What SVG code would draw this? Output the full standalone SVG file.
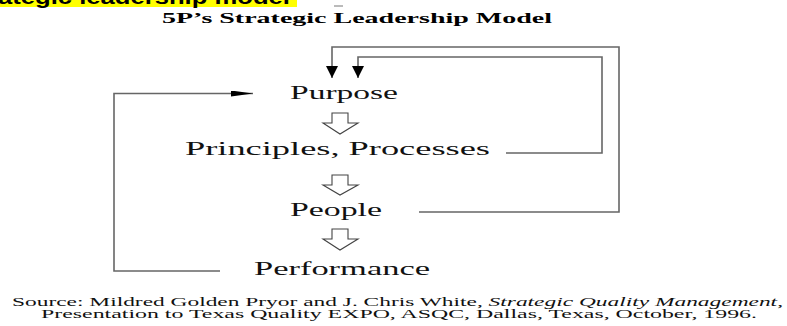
<svg xmlns="http://www.w3.org/2000/svg" width="787" height="326" viewBox="0 0 787 326">
<style>
.node{font-size:19px;fill:#111}
.conn{fill:none;stroke:#666;stroke-width:1.6}
.hollow{fill:#fff;stroke:#444;stroke-width:1.1}
.src{font-size:11.5px;fill:#111}
</style>
<defs>
<marker id="ah" viewBox="0 0 12 12" refX="12" refY="6" markerWidth="12" markerHeight="12" markerUnits="userSpaceOnUse" orient="auto">
<path d="M0,0 L12,6 L0,12 Z" fill="#000"/>
</marker>
<marker id="ahl" viewBox="0 0 22 6" refX="22" refY="3" markerWidth="22" markerHeight="6" markerUnits="userSpaceOnUse" orient="auto">
<path d="M0,0 L22,3 L0,6 Z" fill="#000"/>
</marker>
</defs>
<rect x="0" y="0" width="297" height="7" fill="#ffff00"/>
<text x="-2" y="4" font-family="Liberation Sans, Arial, sans-serif" font-weight="bold" font-size="20" textLength="292" lengthAdjust="spacingAndGlyphs">ategic leadership model</text>
<line x1="334" y1="6" x2="343" y2="6" stroke="#777" stroke-width="1"/>
<text x="162" y="22.5" font-family="Liberation Serif, Times New Roman, serif" font-weight="bold" font-size="15" textLength="390" lengthAdjust="spacingAndGlyphs">5P’s Strategic Leadership Model</text>
<g id="connectors">
<path class="conn" d="M419,212 H619 V47 H332 V78" marker-end="url(#ah)"/>
<path class="conn" d="M506,153 H602 V57 H358 V78" marker-end="url(#ah)"/>
<path class="conn" d="M220,271 H114 V93.5 H253" marker-end="url(#ahl)"/>
<path class="hollow" d="M332,113 H348 V123 H358 L340,134 L323,123 H332 Z"/>
<path class="hollow" d="M332,175 H348 V185 H358 L340,195 L323,185 H332 Z"/>
<path class="hollow" d="M332,229 H348 V239 H358 L340,250 L323,239 H332 Z"/>
</g>
<g id="purpose"><text class="node" font-family="Liberation Serif, Times New Roman, serif" x="290" y="98.5" textLength="108" lengthAdjust="spacingAndGlyphs">Purpose</text></g>
<g id="principles"><text class="node" font-family="Liberation Serif, Times New Roman, serif" x="185" y="155" textLength="305" lengthAdjust="spacingAndGlyphs">Principles, Processes</text></g>
<g id="people"><text class="node" font-family="Liberation Serif, Times New Roman, serif" x="290" y="216" textLength="92" lengthAdjust="spacingAndGlyphs">People</text></g>
<g id="performance"><text class="node" font-family="Liberation Serif, Times New Roman, serif" x="254" y="275" textLength="176" lengthAdjust="spacingAndGlyphs">Performance</text></g>
<g id="source">
<text class="src" font-family="Liberation Serif, Times New Roman, serif" x="12" y="305.5" textLength="771" lengthAdjust="spacingAndGlyphs">Source:  Mildred Golden Pryor and J. Chris White, <tspan font-style="italic">Strategic Quality Management</tspan>,</text>
<text class="src" font-family="Liberation Serif, Times New Roman, serif" x="41" y="317.5" textLength="716" lengthAdjust="spacingAndGlyphs">Presentation to Texas Quality EXPO, ASQC, Dallas, Texas, October, 1996.</text>
</g>
</svg>
